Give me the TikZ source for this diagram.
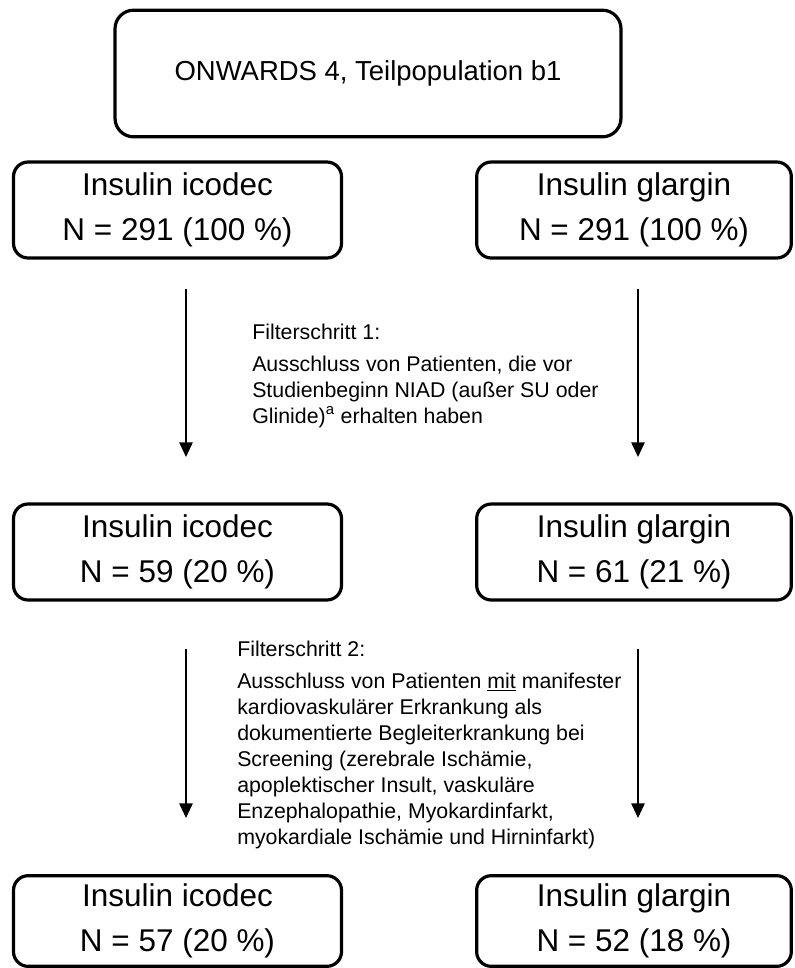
\documentclass[tikz,border=0pt]{standalone}
\usepackage{fontspec}
\setmainfont{Liberation Sans}
\usetikzlibrary{arrows.meta}
\begin{document}
\begin{tikzpicture}[x=0.75pt,y=-0.75pt,
  box/.style={draw, line width=2.4pt, rounded corners=11pt, inner sep=0pt, align=center,
    font=\fontsize{23.6}{34}\selectfont},
  titlebox/.style={draw, line width=2.4pt, rounded corners=14pt, inner sep=0pt, align=center,
    font=\fontsize{20.6}{24}\selectfont, minimum width=379.5pt, minimum height=95pt},
  rowbox/.style={box, minimum width=246pt, minimum height=72pt},
  filt/.style={anchor=north west, inner sep=0pt, align=left, font=\fontsize{16}{19.5}\selectfont},
  flow/.style={line width=1.3pt, -{Triangle[width=10pt,length=11pt]}}]
\useasboundingbox (0,0) rectangle (794,968);
\node[titlebox] (t) at (368,73.5) {ONWARDS 4, Teilpopulation b1};
\node[rowbox] (a1) at (177.5,210) {Insulin icodec\\N = 291 (100 \%)};
\node[rowbox, minimum width=236pt] (b1) at (634,210) {Insulin glargin\\N = 291 (100 \%)};
\node[rowbox] (a2) at (177.5,552) {Insulin icodec\\N = 59 (20 \%)};
\node[rowbox, minimum width=236pt] (b2) at (634,552) {Insulin glargin\\N = 61 (21 \%)};
\node[rowbox, minimum height=68pt] (a3) at (177.5,921) {Insulin icodec\\N = 57 (20 \%)};
\node[rowbox, minimum width=236pt, minimum height=68pt] (b3) at (634,921) {Insulin glargin\\N = 52 (18 \%)};
\coordinate (p1s) at (186,289); \coordinate (p1e) at (186,457);
\coordinate (q1s) at (638,289); \coordinate (q1e) at (638,457);
\coordinate (p2s) at (186,649); \coordinate (p2e) at (186,818);
\coordinate (q2s) at (638,649); \coordinate (q2e) at (638,818);
\draw[flow] (p1s) -- (p1e);
\draw[flow] (q1s) -- (q1e);
\draw[flow] (p2s) -- (p2e);
\draw[flow] (q2s) -- (q2e);
\node[filt] (f1) at (252,324) {Filterschritt 1:\\[4pt]Ausschluss von Patienten, die vor\\Studienbeginn NIAD (außer SU oder\\Glinide)\textsuperscript{a} erhalten haben};
\node[filt] (f2) at (237,641) {Filterschritt 2:\\[4pt]Ausschluss von Patienten \underline{mit} manifester\\kardiovaskulärer Erkrankung als\\dokumentierte Begleiterkrankung bei\\Screening (zerebrale Ischämie,\\apoplektischer Insult, vaskuläre\\Enzephalopathie, Myokardinfarkt,\\myokardiale Ischämie und Hirninfarkt)};
\end{tikzpicture}
\end{document}
